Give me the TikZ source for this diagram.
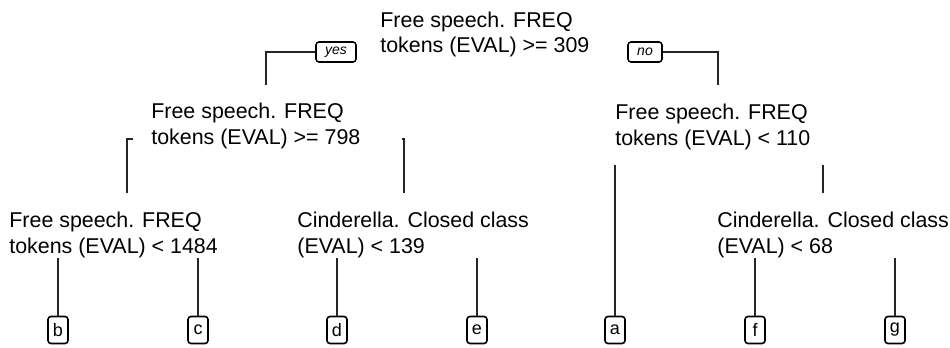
\documentclass[tikz,border=0pt]{standalone}
\usepackage{fontspec}
\setmainfont{Liberation Sans}
\usetikzlibrary{positioning}

\tikzset{
  split/.style={anchor=base west,inner sep=0pt,align=left,font=\fontsize{10.7}{13}\selectfont},
  leaf/.style={draw,line width=.8pt,rounded corners=1.5pt,minimum width=10pt,minimum height=13.5pt,inner sep=0pt,font=\fontsize{9}{10}\selectfont},
  answer/.style={draw,line width=.8pt,rounded corners=1.5pt,minimum height=10pt,inner sep=0pt,font=\itshape\fontsize{7}{8}\selectfont},
  branch/.style={line width=1pt,black!85}
}

\begin{document}
\begin{tikzpicture}[x=.5pt,y=-.5pt]
\useasboundingbox (0,0) rectangle (950,348);
% split labels (base = last line)
\node[split] (root) at (380,53) {Free speech. FREQ\\tokens (EVAL) >= 309};
\node[split] (n2) at (151,144) {Free speech. FREQ\\tokens (EVAL) >= 798};
\node[split] (n3) at (615,145) {Free speech. FREQ\\tokens (EVAL) < 110};
\node[split] (n4) at (9,253) {Free speech. FREQ\\tokens (EVAL) < 1484};
\node[split] (n5) at (297,253) {Cinderella. Closed class\\(EVAL) < 139};
\node[split] (n6) at (717,253) {Cinderella. Closed class\\(EVAL) < 68};
% yes / no
\node[answer,minimum width=20pt] (yes) at (336,52) {yes};
\node[answer,minimum width=17pt] (no) at (645,52) {no};
% leaves
\node[leaf] (b) at (58,330) {b};
\node[leaf] (c) at (198,330) {c};
\node[leaf] (d) at (337,330) {d};
\node[leaf] (e) at (477,330) {e};
\node[leaf] (a) at (615,330) {a};
\node[leaf] (f) at (755,330) {f};
\node[leaf] (g) at (895,330) {g};
% free ends
\coordinate (r-l) at (266,85);
\coordinate (r-r) at (718,85);
\coordinate (n2-lt) at (133,139);
\coordinate (n2-lb) at (127,193);
\coordinate (n2-rt) at (402,139);
\coordinate (n2-rb) at (404,193);
\coordinate (n3-l) at (615,165);
\coordinate (n3-rt) at (823,165);
\coordinate (n3-rb) at (823,193);
% branches
\draw[branch] (yes.west) -| (r-l);
\draw[branch] (no.east) -| (r-r);
\draw[branch] (n2-lt) -| (n2-lb);
\draw[branch] (n2-rt) -| (n2-rb);
\draw[branch] (n3-l) -- (a);
\draw[branch] (n3-rt) -- (n3-rb);
\draw[branch] (n4.south -| b) -- (b);
\draw[branch] (n4.south -| c) -- (c);
\draw[branch] (n5.south -| d) -- (d);
\draw[branch] (n5.south -| e) -- (e);
\draw[branch] (n6.south -| f) -- (f);
\draw[branch] (n6.south -| g) -- (g);
\end{tikzpicture}
\end{document}
